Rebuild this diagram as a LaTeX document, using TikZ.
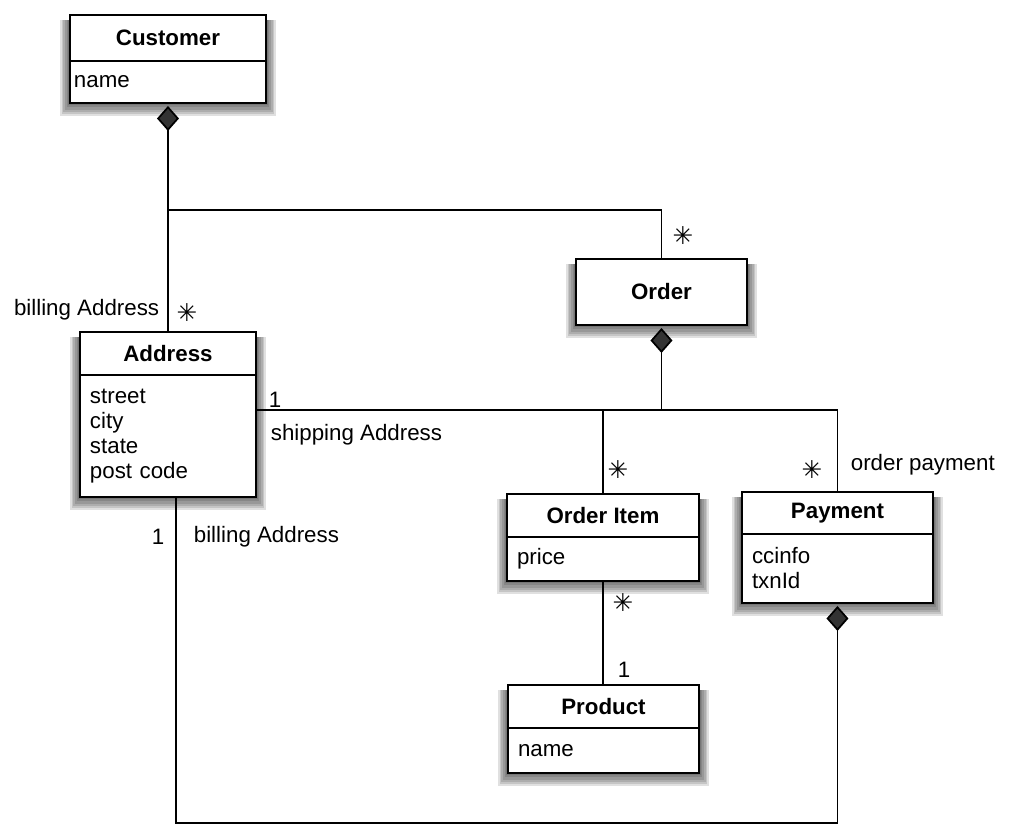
\documentclass[tikz,border=0pt]{standalone}
\usepackage{fontspec}
\setmainfont{Liberation Sans}
\newfontfamily\symfont{DejaVu Sans}
\usetikzlibrary{arrows.meta, positioning, backgrounds, calc}

% soft shadow behind a class (title node, attribute node)
\newcommand{\classshadow}[2]{%
  \begin{scope}[on background layer]
    \foreach \s in {1,...,6}
      \fill[black, opacity=0.12]
        ([xshift=-1.7*\s*0.02cm, yshift=-2.2*\s*0.02cm]#2.south west)
        rectangle ([xshift=1.7*\s*0.02cm, yshift=-0.1cm]#1.north east);
  \end{scope}}

\begin{document}
\begin{tikzpicture}[
    x=0.02cm, y=-0.02cm, line width=1pt,
    font=\fontsize{12.7}{14.2}\selectfont,
    titlebox/.style={draw, fill=white, outer sep=0pt, inner sep=0pt,
        font=\fontsize{12.7}{14.2}\selectfont\bfseries, anchor=north west},
    attrbox/.style={draw, fill=white, outer sep=0pt, inner xsep=0.2cm,
        inner ysep=0pt, align=left},
    comp/.style={{Diamond[length=0.5cm, width=0.44cm, fill=black!80]}-,
        shorten <=0.06cm},
    mult/.style={inner sep=0pt, font=\symfont\fontsize{14}{16}\selectfont},
    role/.style={inner sep=0pt}
]
\useasboundingbox (0,0) rectangle (1015,828);

% classes
\node[titlebox, minimum width=3.92cm, minimum height=0.92cm] (customer)
    at (70,15) {Customer};
\node[attrbox, text width=3.76cm, inner xsep=0.08cm, minimum height=0.84cm,
    below=0pt of customer] (custattr) {name};

\node[titlebox, minimum width=3.52cm, minimum height=0.86cm] (address)
    at (80,332) {Address};
\node[attrbox, text width=3.12cm, minimum height=2.44cm,
    below=0pt of address] (addrattr) {street\\city\\state\\post code};

\node[titlebox, minimum width=3.42cm, minimum height=1.32cm] (order)
    at (576,259) {Order};

\node[titlebox, minimum width=3.84cm, minimum height=0.86cm] (orderitem)
    at (507,494) {Order Item};
\node[attrbox, text width=3.44cm, minimum height=0.88cm,
    below=0pt of orderitem] (itemattr) {price};

\node[titlebox, minimum width=3.82cm, minimum height=0.86cm] (product)
    at (508,685) {Product};
\node[attrbox, text width=3.42cm, minimum height=0.9cm,
    below=0pt of product] (prodattr) {name};

\node[titlebox, minimum width=3.82cm, minimum height=0.84cm] (payment)
    at (742,492) {Payment};
\node[attrbox, text width=3.42cm, minimum height=1.38cm,
    below=0pt of payment] (payattr) {ccinfo\\txnId};

\classshadow{customer}{custattr}
\classshadow{address}{addrattr}
\classshadow{order}{order}
\classshadow{orderitem}{itemattr}
\classshadow{product}{prodattr}
\classshadow{payment}{payattr}

% associations
\coordinate (custjoin) at (custattr.south |- 0,210);
\draw[comp] (custattr.south) -- (custjoin);
\draw (custjoin) -| (order.north);
\draw (custjoin) -- (address.north);

\coordinate (itemjoin) at (order.south |- 0,410);
\draw[comp] (order.south) -- (itemjoin);
\draw (itemjoin -| addrattr.east) -| (payment.north);
\draw (itemjoin -| orderitem.north) -- (orderitem.north);

\draw (itemattr.south) -- (itemattr.south |- product.north);

\coordinate (billjoin) at ([xshift=0.16cm]addrattr.south);
\draw[comp] (payattr.south) |- (billjoin |- 0,823) -- (billjoin);

% multiplicities and roles
\node[role, anchor=east] (billtop) at (160,310) {billing Address};
\node[mult] (addrmany) at (187,313) {✳};
\node[mult] (ordermany) at (683,236) {✳};
\node[role] (shipone) at (275,400) {1};
\node[role, anchor=west] (shiprole) at (270,435) {shipping Address};
\node[mult] (itemmany) at (618,470) {✳};
\node[mult] (paymany) at (812,470) {✳};
\node[role, anchor=west] (payrole) at (850,465) {order payment};
\node[role] (billone) at (158,537) {1};
\node[role, anchor=west] (billbot) at (193,537) {billing Address};
\node[mult] (prodmany) at (623,603) {✳};
\node[role] (prodone) at (624,670) {1};
\end{tikzpicture}
\end{document}
